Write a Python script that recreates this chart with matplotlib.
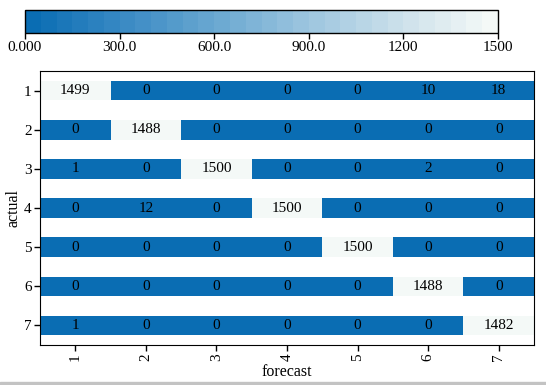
import matplotlib
matplotlib.use("Agg")
import matplotlib.pyplot as plt
from matplotlib.colors import LinearSegmentedColormap, Normalize
from matplotlib.colorbar import ColorbarBase
from matplotlib.patches import Rectangle

plt.rcParams["font.family"] = ["Liberation Serif", "DejaVu Serif"]

LABELS = ["1", "2", "3", "4", "5", "6", "7"]
MATRIX = [
    [1499, 0, 0, 0, 0, 10, 18],
    [0, 1488, 0, 0, 0, 0, 0],
    [1, 0, 1500, 0, 0, 2, 0],
    [0, 12, 0, 1500, 0, 0, 0],
    [0, 0, 0, 0, 1500, 0, 0],
    [0, 0, 0, 0, 0, 1488, 0],
    [1, 0, 0, 0, 0, 0, 1482],
]
CBAR_TICKS = [0, 300, 600, 900, 1200, 1500]
CBAR_TICKLABELS = ["0.000", "300.0", "600.0", "900.0", "1200", "1500"]

cmap = LinearSegmentedColormap.from_list(
    "blues_r",
    ["#0a6db3", "#3a8ac4", "#6aa8d1", "#9cc5df", "#cbe0ea", "#f4f9f7"],
    N=30,
)
norm = Normalize(vmin=0, vmax=1500)

fig = plt.figure(figsize=(5.46, 3.85), dpi=100)
W, H = 546, 385

ax = fig.add_axes([40 / W, (H - 345) / H, 494 / W, 274 / H])
for i, row in enumerate(MATRIX):
    for j, v in enumerate(row):
        ax.barh(i + 1, 1, left=j + 0.5, height=0.5, color=cmap(norm(v)),
                edgecolor="none")
        ax.text(j + 1, i + 1, str(v), ha="center", va="center", fontsize=11,
                color="black")

ax.set_xlim(0.5, 7.5)
ax.set_ylim(7.5, 0.5)
ax.set_xticks(range(1, 8))
ax.set_xticklabels(LABELS, rotation=90, fontsize=11)
ax.set_yticks(range(1, 8))
ax.set_yticklabels(LABELS, fontsize=11)
ax.set_xlabel("forecast", fontsize=11.5, labelpad=2)
ax.set_ylabel("actual", fontsize=11.5, labelpad=2)
ax.tick_params(length=4, width=1, pad=2)

cax = fig.add_axes([25 / W, (H - 33) / H, 473 / W, 23 / H])
cb = ColorbarBase(cax, cmap=cmap, norm=norm, orientation="horizontal")
cb.set_ticks(CBAR_TICKS)
cb.set_ticklabels(CBAR_TICKLABELS)
cax.tick_params(labelsize=11, length=4, width=1, pad=2)
cb.outline.set_linewidth(1)

fig.patches.append(Rectangle((0, 0), 1, 3 / H, transform=fig.transFigure,
                             color="#c3c3c3", zorder=-1))

fig.savefig("out.png", dpi=100)
